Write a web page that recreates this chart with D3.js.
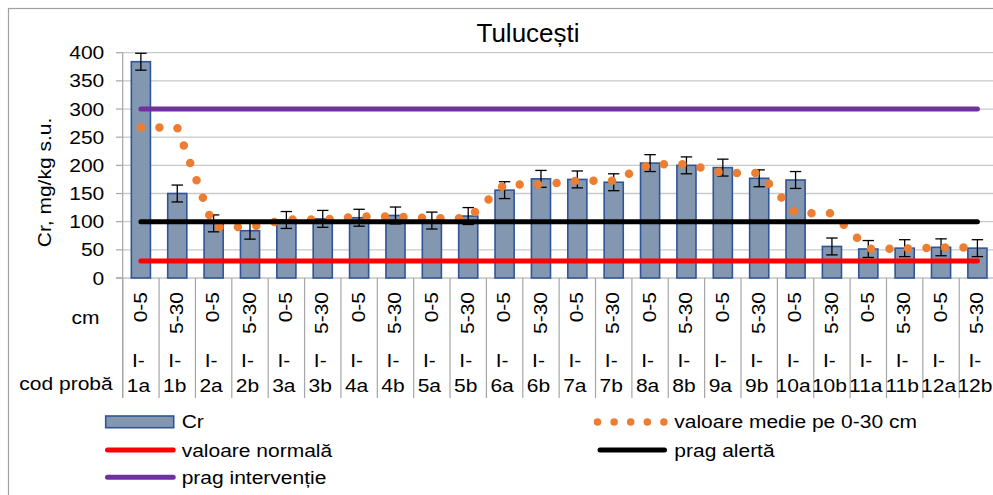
<!DOCTYPE html>
<html><head><meta charset="utf-8">
<script src="https://cdnjs.cloudflare.com/ajax/libs/d3/7.8.5/d3.min.js"></script>
<style>
body{margin:0;background:#fff;}
svg{display:block;font-family:"Liberation Sans",Arial,sans-serif;}
</style>
</head><body>
<svg id="c" width="993" height="495"></svg>
<script>
// ---------- data ----------
const depthLabels = ["0-5","5-30","0-5","5-30","0-5","5-30","0-5","5-30","0-5","5-30","0-5","5-30",
                     "0-5","5-30","0-5","5-30","0-5","5-30","0-5","5-30","0-5","5-30","0-5","5-30"];
const sampleCodes = ["I-1a","I-1b","I-2a","I-2b","I-3a","I-3b","I-4a","I-4b","I-5a","I-5b","I-6a","I-6b",
                     "I-7a","I-7b","I-8a","I-8b","I-9a","I-9b","I-10a","I-10b","I-11a","I-11b","I-12a","I-12b"];
const crValues = [384,150,97,84,103,105,107,111,102,110,156,176,175,170,204,200,196,177,174,56,51.5,53,54.5,53];
const crErrors = [15,15,15,15,15,15,15,15,15,15,15,15,15,15,15,15,15,15,15,15,15,15,15,15];
const meanValues = [267,267,90.5,90.5,104,104,109,109,106,106,166,166,172.5,172.5,202,202,186.5,186.5,115,115,52,52,54,54];
const normalValue = 30;
const alertValue = 100;
const interventionValue = 300;
const yTicks = [0,50,100,150,200,250,300,350,400];
const titleText = "Tulucești";
const yTitle = "Cr, mg/kg s.u.";
const rowLabels = ["cm","cod probă"];
const legendLabels = ["Cr","valoare medie pe 0-30 cm","valoare normală","prag alertă","prag intervenție"];

// ---------- layout ----------
const svg = d3.select("#c");
const P = {left:122.7, right:995.6, top:52.7, bottom:278, axisBottom:398};
const x = d3.scaleBand().domain(sampleCodes).range([P.left, P.right]).paddingInner(0.475).paddingOuter(0.2375);
const step = x.step();
const cx = d => x(d) + x.bandwidth()/2;
const y = d3.scaleLinear().domain([0,400]).range([P.bottom, P.top]);

const C = {bar:"#8497B0", barStroke:"#2F5597", grid:"#c9c9c9", axis:"#a6a6a6", orange:"#ED7D31",
           red:"#FF0000", black:"#000000", purple:"#7030A0"};
const SY = 0.88;

function txt(g, str, tx, ty, opt={}) {
  const size = opt.size || 21;
  const rot = opt.rotate ? ` rotate(${opt.rotate})` : "";
  const sy = opt.sy || SY;
  return g.append("text")
    .attr("transform", `translate(${tx},${ty})${rot} scale(1,${sy})`)
    .attr("text-anchor", opt.anchor || "start")
    .attr("font-size", size)
    .attr("fill", opt.fill || "#000")
    .text(str);
}

// background + border
svg.append("rect").attr("width",993).attr("height",495).attr("fill","#fff");
svg.append("rect").attr("x",8.5).attr("y",8.5).attr("width",1000).attr("height",500)
  .attr("fill","none").attr("stroke","#a0a0a0").attr("stroke-width",1.2);

// title
txt(svg, titleText, 528, 41.7, {size:26, anchor:"middle", sy:0.96});

// gridlines + y ticks
const gy = svg.append("g");
gy.selectAll("line.grid").data(yTicks.filter(t=>t>0)).join("line")
  .attr("x1", P.left).attr("x2", 993).attr("y1", d=>y(d)).attr("y2", d=>y(d))
  .attr("stroke", C.grid).attr("stroke-width",1.3);
gy.selectAll("line.tick").data(yTicks).join("line")
  .attr("x1", 116).attr("x2", P.left).attr("y1", d=>y(d)).attr("y2", d=>y(d))
  .attr("stroke", C.axis).attr("stroke-width",1.2);
yTicks.forEach(t => txt(gy, String(t), 104.3, y(t)+6.6, {anchor:"end"}));
// y axis line
svg.append("line").attr("x1",P.left).attr("x2",P.left).attr("y1",P.top).attr("y2",P.axisBottom)
  .attr("stroke",C.axis).attr("stroke-width",1.2);
// y title
txt(svg, yTitle, 51, 182.5, {anchor:"middle", rotate:-90});

// x axis line and category separators
svg.append("line").attr("x1",116).attr("x2",993).attr("y1",P.bottom).attr("y2",P.bottom)
  .attr("stroke",C.axis).attr("stroke-width",1.2);
svg.append("g").selectAll("line").data(d3.range(sampleCodes.length+1)).join("line")
  .attr("x1", i=>P.left + i*step).attr("x2", i=>P.left + i*step)
  .attr("y1", P.bottom).attr("y2", P.axisBottom)
  .attr("stroke", C.axis).attr("stroke-width",1.2);

// category labels
const gl = svg.append("g");
sampleCodes.forEach((code,i) => {
  const c = cx(code);
  txt(gl, depthLabels[i], c+5.7, 292, {anchor:"end", rotate:-90});
  const k = code.indexOf("-")+1;
  txt(gl, code.slice(0,k), c-2.5, 367, {anchor:"middle"});
  txt(gl, code.slice(k), c-2.5, 391.7, {anchor:"middle"});
});
txt(gl, rowLabels[0], 85.5, 324.3, {anchor:"middle"});
txt(gl, rowLabels[1], 66, 390, {anchor:"middle"});

// bars
svg.append("g").selectAll("rect").data(crValues).join("rect")
  .attr("x", (d,i)=>x(sampleCodes[i])).attr("width", x.bandwidth())
  .attr("y", d=>y(d)).attr("height", d=>y(0)-y(d))
  .attr("fill", C.bar).attr("stroke", C.barStroke).attr("stroke-width",1.6);

// error bars
const ge = svg.append("g").attr("stroke","#000").attr("stroke-width",1.3);
crValues.forEach((v,i)=>{
  const c = cx(sampleCodes[i]), e = crErrors[i];
  ge.append("line").attr("x1",c).attr("x2",c).attr("y1",y(v+e)).attr("y2",y(v-e));
  ge.append("line").attr("x1",c-5.7).attr("x2",c+5.7).attr("y1",y(v+e)).attr("y2",y(v+e));
  ge.append("line").attr("x1",c-5.7).attr("x2",c+5.7).attr("y1",y(v-e)).attr("y2",y(v-e));
});

// mean dotted line
const line = d3.line().x((d,i)=>cx(sampleCodes[i])).y(d=>y(d));
svg.append("path").datum(meanValues).attr("d", line)
  .attr("fill","none").attr("stroke",C.orange).attr("stroke-width",8.5)
  .attr("stroke-linecap","round").attr("stroke-dasharray","0 18.5");

// threshold lines
const x0 = cx(sampleCodes[0]), x1 = cx(sampleCodes[sampleCodes.length-1]);
[[normalValue,C.red],[alertValue,C.black],[interventionValue,C.purple]].forEach(([v,col])=>{
  svg.append("line").attr("x1",x0).attr("x2",x1).attr("y1",y(v)).attr("y2",y(v))
    .attr("stroke",col).attr("stroke-width",5).attr("stroke-linecap","round");
});

// legend
const lg = svg.append("g");
lg.append("rect").attr("x",105.7).attr("y",416).attr("width",68).attr("height",11.7)
  .attr("fill",C.bar).attr("stroke",C.barStroke).attr("stroke-width",1.6);
txt(lg, legendLabels[0], 181.7, 428.3);
lg.append("path").attr("d","M597.5,422H664").attr("stroke",C.orange).attr("stroke-width",7.5)
  .attr("stroke-linecap","round").attr("stroke-dasharray","0 16.6").attr("fill","none");
txt(lg, legendLabels[1], 674.3, 428.3);
lg.append("line").attr("x1",107.5).attr("x2",173.2).attr("y1",450).attr("y2",450)
  .attr("stroke",C.red).attr("stroke-width",5).attr("stroke-linecap","round");
txt(lg, legendLabels[2], 181.7, 456.7);
lg.append("line").attr("x1",600).attr("x2",664.5).attr("y1",450).attr("y2",450)
  .attr("stroke",C.black).attr("stroke-width",5).attr("stroke-linecap","round");
txt(lg, legendLabels[3], 674.3, 456.7);
lg.append("line").attr("x1",107.5).attr("x2",173.2).attr("y1",477.3).attr("y2",477.3)
  .attr("stroke",C.purple).attr("stroke-width",5).attr("stroke-linecap","round");
txt(lg, legendLabels[4], 181.7, 484);
</script>
</body></html>
